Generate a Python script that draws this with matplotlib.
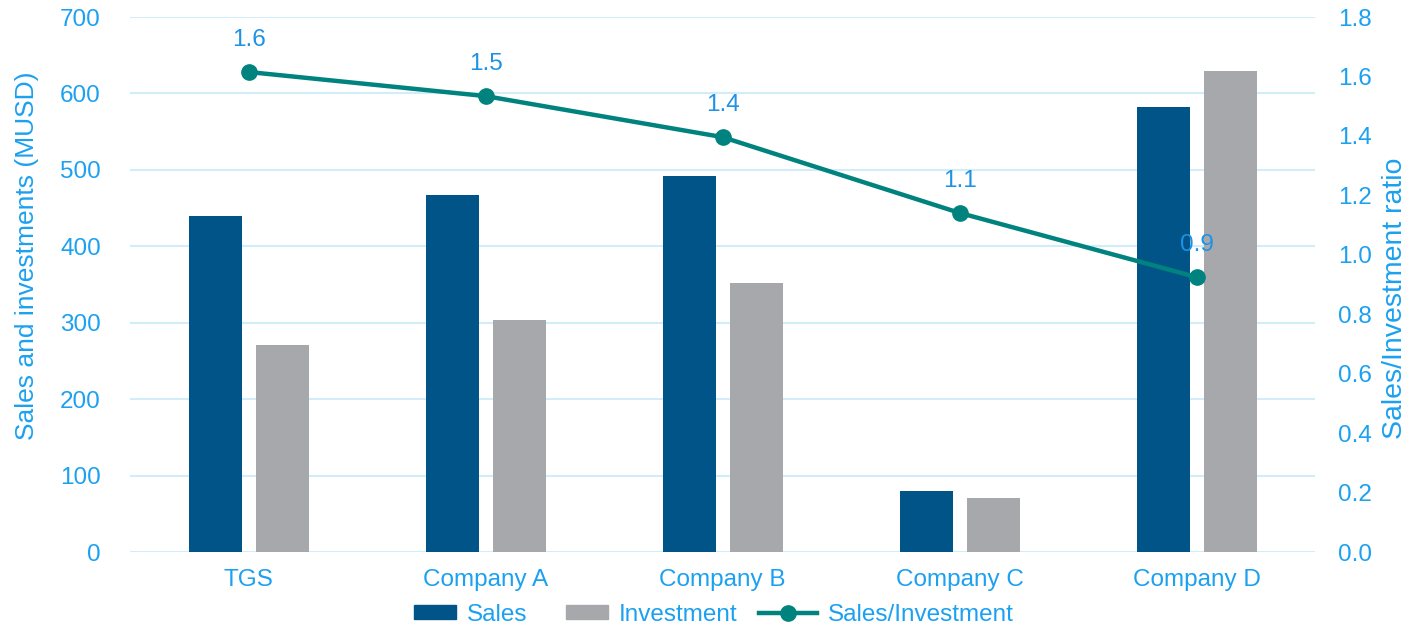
import numpy as np
import matplotlib.pyplot as plt
from matplotlib.lines import Line2D
from matplotlib.patches import Patch, Rectangle
from matplotlib.legend_handler import HandlerPatch

plt.rcParams['font.family'] = ['Liberation Sans', 'DejaVu Sans']

companies = ['TGS', 'Company A', 'Company B', 'Company C', 'Company D']
sales = [439, 467, 492, 80, 582]
investment = [271, 304, 352, 71, 630]
ratio = [1.615, 1.534, 1.396, 1.141, 0.925]
ratio_labels = ['1.6', '1.5', '1.4', '1.1', '0.9']

BLUE_TXT = '#1BA1F0'
ANN_C = '#1E92E4'
SALES_C = '#005487'
INV_C = '#A7A8AC'
LINE_C = '#00837E'
GRID_C = '#D2ECFA'

fig = plt.figure(figsize=(14.09, 6.26), dpi=100)
ax = fig.add_axes([0.0923, 0.1182, 0.8410, 0.8546])
ax2 = ax.twinx()

x = np.arange(len(companies))
w = 0.224
ax.bar(x - 0.141, sales, w, color=SALES_C, zorder=2)
ax.bar(x + 0.143, investment, w, color=INV_C, zorder=2)

ax.set_xlim(-0.5, 4.5)
ax.set_ylim(0, 700)
ax.set_yticks(range(0, 701, 100))
ax.yaxis.grid(True, color=GRID_C, linewidth=1.5, zorder=0)
ax.set_axisbelow(True)
ax.set_xticks(x)
ax.set_xticklabels(companies)

ax2.set_ylim(0, 1.8)
ax2.set_yticks(np.arange(0, 1.81, 0.2))
ax2.set_yticklabels(['%.1f' % v for v in np.arange(0, 1.81, 0.2)])
ax2.plot(x, ratio, color=LINE_C, linewidth=3.2, marker='o', markersize=11, zorder=3)
for xi, r, lab in zip(x, ratio, ratio_labels):
    ax2.annotate(lab, (xi, r), xytext=(0, 23), textcoords='offset points',
                 ha='center', va='center', color=ANN_C, fontsize=17.5)

for a in (ax, ax2):
    for s in a.spines.values():
        s.set_visible(False)
    a.tick_params(length=0, colors=BLUE_TXT, labelsize=17.5)
ax.tick_params(axis='y', pad=21)
ax2.tick_params(axis='y', pad=16.5)
ax.tick_params(axis='x', pad=12)

ax.set_ylabel('Sales and investments (MUSD)', color=BLUE_TXT, fontsize=19)
ax.yaxis.set_label_coords(-0.0768, 0.553)
ax2.set_ylabel('Sales/Investment ratio', color=BLUE_TXT, fontsize=20.5)
ax2.yaxis.set_label_coords(1.0565, 0.475)


# narrower box handles than the line handle, as in the original legend
def short_box(legend, orig_handle, xdescent, ydescent, width, height, fontsize):
    return Rectangle((-xdescent + width * 0.28, -ydescent), width * 0.72, height)


handles = [Patch(color=SALES_C), Patch(color=INV_C),
           Line2D([], [], color=LINE_C, linewidth=3.2, marker='o', markersize=11)]
fig.legend(handles, ['Sales', 'Investment', 'Sales/Investment'], loc='center',
           bbox_to_anchor=(0.501, 0.018), ncol=3, frameon=False, fontsize=17.5,
           labelcolor=BLUE_TXT, handlelength=2.4, handleheight=0.5,
           handletextpad=0.45, columnspacing=0.9,
           handler_map={Patch: HandlerPatch(patch_func=short_box)})

fig.savefig('out.png', dpi=100)
